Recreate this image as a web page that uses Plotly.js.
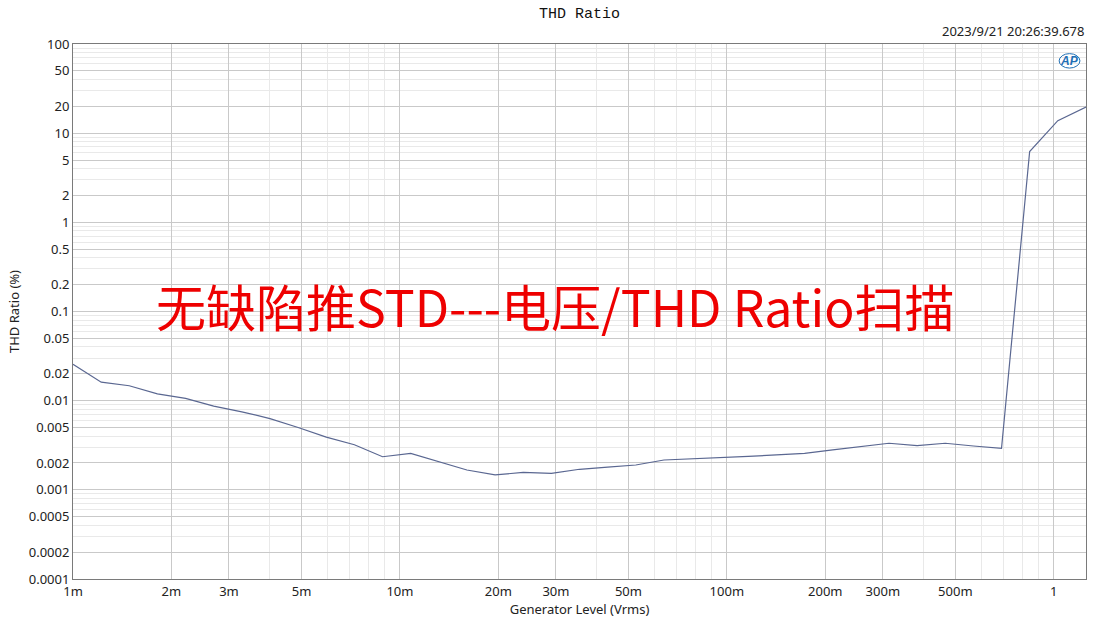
<!DOCTYPE html>
<html>
<head>
<meta charset="utf-8">
<script src="https://cdn.plot.ly/plotly-3.0.1.min.js"></script>
<style>
html,body{margin:0;padding:0;background:#fff;}
#chart{width:1111px;height:620px;}
</style>
</head>
<body>
<div id="chart"></div>
<script>
// Generator level (Vrms)
const generatorLevel = [
  0.001, 0.00122, 0.001486, 0.001812, 0.00221, 0.002694, 0.003284, 0.004005,
  0.004882, 0.005953, 0.007257, 0.008849, 0.01079, 0.01315, 0.01603, 0.01955,
  0.02383, 0.02906, 0.03543, 0.04319, 0.05266, 0.06421, 0.07828, 0.09542,
  0.1163, 0.1418, 0.1729, 0.2108, 0.257, 0.3133, 0.382, 0.4657,
  0.5678, 0.6922, 0.8439, 1.029, 1.255
];
// THD Ratio (%)
const thdRatio = [
  0.0256, 0.0161, 0.0147, 0.0119, 0.0106, 0.0087, 0.0075, 0.0063,
  0.0050, 0.0039, 0.0032, 0.00235, 0.00256, 0.00205, 0.00167, 0.00147,
  0.00157, 0.00153, 0.00170, 0.00180, 0.00190, 0.00216, 0.00222, 0.00231,
  0.00237, 0.00246, 0.00257, 0.00280, 0.00305, 0.00333, 0.00313, 0.00333,
  0.00310, 0.00292, 6.23, 13.8, 19.6
];
const xTickVals = [0.001,0.002,0.003,0.005,0.01,0.02,0.03,0.05,0.1,0.2,0.3,0.5,1];
const xTickText = ['1m','2m','3m','5m','10m','20m','30m','50m','100m','200m','300m','500m','1'];
const yTickVals = [100,50,20,10,5,2,1,0.5,0.2,0.1,0.05,0.02,0.01,0.005,0.002,0.001,0.0005,0.0002,0.0001];
const yTickText = ['100','50','20','10','5','2','1','0.5','0.2','0.1','0.05','0.02','0.01','0.005','0.002','0.001','0.0005','0.0002','0.0001'];

const chartTitle = 'THD Ratio';
const timeStamp = '2023/9/21 20:26:39.678';
const overlayText = '无缺陷推STD---电压/THD Ratio扫描';

// minor grid positions (styling)
const xMinor = [], yMinor = [];
for (let e = -3; e <= 0; e++) {
  [4,6,7,8,9].forEach(m => xMinor.push(m * Math.pow(10, e)));
}
for (let e = -4; e <= 1; e++) {
  [3,4,6,7,8,9].forEach(m => yMinor.push(m * Math.pow(10, e)));
}

const trace = {
  x: generatorLevel,
  y: thdRatio,
  type: 'scatter',
  mode: 'lines',
  line: {color: '#5a6791', width: 1.2},
  hoverinfo: 'x+y'
};

const axisFont = {family: 'Noto Sans, Open Sans, sans-serif', size: 13, color: '#222'};

const layout = {
  width: 1111,
  height: 620,
  margin: {l: 73, r: 25, t: 44, b: 41, pad: 0},
  paper_bgcolor: '#ffffff',
  plot_bgcolor: '#ffffff',
  showlegend: false,
  title: {
    text: chartTitle,
    font: {family: 'Liberation Mono, DejaVu Sans Mono, monospace', size: 15, color: '#111'},
    x: 0.5, xref: 'paper', xanchor: 'center',
    y: 0.98, yref: 'container', yanchor: 'middle'
  },
  xaxis: {
    type: 'log',
    range: [-3, Math.log10(1.255)],
    tickmode: 'array',
    tickvals: xTickVals,
    ticktext: xTickText,
    ticks: '',
    tickfont: axisFont,
    showgrid: true,
    gridcolor: '#c9c9c9',
    gridwidth: 1,
    minor: {tickmode: 'array', tickvals: xMinor, showgrid: true, gridcolor: '#e9e9e9', gridwidth: 1, ticks: ''},
    showline: true,
    linecolor: '#7a7a7a',
    linewidth: 1,
    mirror: true,
    zeroline: false,
    title: {text: 'Generator Level (Vrms)', font: axisFont, standoff: 2}
  },
  yaxis: {
    type: 'log',
    range: [-4, 2],
    tickmode: 'array',
    tickvals: yTickVals,
    ticktext: yTickText,
    ticks: '',
    tickfont: axisFont,
    showgrid: true,
    gridcolor: '#c9c9c9',
    gridwidth: 1,
    minor: {tickmode: 'array', tickvals: yMinor, showgrid: true, gridcolor: '#e9e9e9', gridwidth: 1, ticks: ''},
    showline: true,
    linecolor: '#7a7a7a',
    linewidth: 1,
    mirror: true,
    zeroline: false,
    title: {text: 'THD Ratio (%)', font: axisFont, standoff: 6}
  },
  annotations: [
    {
      text: timeStamp, xref: 'paper', yref: 'paper', x: 1.0, y: 1.0,
      xanchor: 'right', yanchor: 'bottom', yshift: 2, showarrow: false,
      font: {family: 'Noto Sans, Open Sans, sans-serif', size: 13, color: '#222'}
    },
    {
      text: '<b><i>AP</i></b>', xref: 'paper', yref: 'paper', x: 0.9835, y: 0.968,
      xanchor: 'center', yanchor: 'middle', showarrow: false,
      font: {family: 'Liberation Sans, sans-serif', size: 12, color: '#1f6fb5'}
    },
    {
      text: overlayText, xref: 'paper', yref: 'paper', x: 0.476, y: 0.512,
      xanchor: 'center', yanchor: 'middle', showarrow: false,
      font: {family: 'Noto Sans CJK SC, sans-serif', size: 50, color: '#ee0000', weight: 400}
    }
  ],
  shapes: [
    {
      type: 'circle', xref: 'paper', yref: 'paper',
      x0: 0.9735, x1: 0.994, y0: 0.955, y1: 0.982,
      line: {color: '#1f6fb5', width: 1}
    }
  ]
};

Plotly.newPlot('chart', [trace], layout, {displayModeBar: false, staticPlot: true});
</script>
</body>
</html>
